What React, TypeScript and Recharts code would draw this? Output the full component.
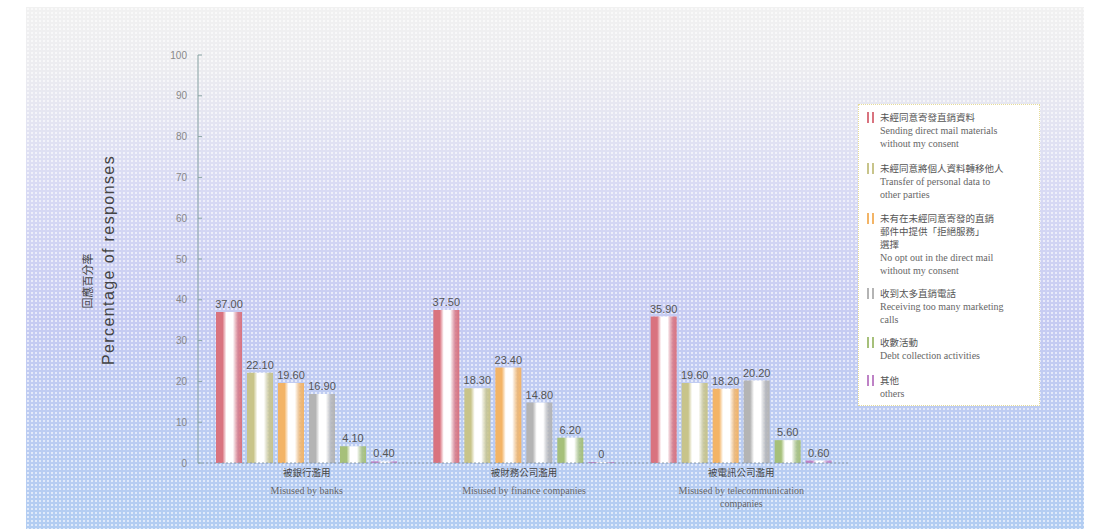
import React from "react";
import { Bar, BarChart, LabelList, XAxis, YAxis } from "recharts";

// 三個類別（被誰濫用）
const categoriesZh = ["被銀行濫用", "被財務公司濫用", "被電訊公司濫用"];
const categoriesEn = [
  ["Misused by banks"],
  ["Misused by finance companies"],
  ["Misused by telecommunication", "companies"],
];

// 各項回應百分率
const sendingMail = [37.0, 37.5, 35.9];
const transferData = [22.1, 18.3, 19.6];
const noOptOut = [19.6, 23.4, 18.2];
const tooManyCalls = [16.9, 14.8, 20.2];
const debtCollection = [4.1, 6.2, 5.6];
const others = [0.4, 0, 0.6];

const yTicks = [0, 10, 20, 30, 40, 50, 60, 70, 80, 90, 100];

const seriesKeys = ["s1", "s2", "s3", "s4", "s5", "s6"];
const seriesValues = [sendingMail, transferData, noOptOut, tooManyCalls, debtCollection, others];
const seriesColors = ["#d9737f", "#c8c48a", "#f3b466", "#b4b4b4", "#a6c07a", "#be82c6"];

const legendZh = [
  ["未經同意寄發直銷資料"],
  ["未經同意將個人資料轉移他人"],
  ["未有在未經同意寄發的直銷", "郵件中提供「拒絕服務」", "選擇"],
  ["收到太多直銷電話"],
  ["收數活動"],
  ["其他"],
];
const legendEn = [
  ["Sending direct mail materials", "without my consent"],
  ["Transfer of personal data to", "other parties"],
  ["No opt out in the direct mail", "without my consent"],
  ["Receiving too many marketing", "calls"],
  ["Debt collection activities"],
  ["others"],
];
const legendGaps = [12, 11, 10, 10, 12, 0];

const data = categoriesZh.map((zh, i) => {
  const row: Record<string, string | number> = { zh, idx: i };
  seriesKeys.forEach((k, j) => {
    row[k] = seriesValues[j][i];
  });
  return row;
});

const ZH_FONT = '"Noto Sans CJK TC", sans-serif';
const SERIF = '"Liberation Serif", serif';
const SANS = '"Liberation Sans", Arial, sans-serif';

function CategoryTick({ x, payload }: any) {
  // 固定貼著 x 軸（y=463）往下排
  const base = 463;
  const i = categoriesZh.indexOf(payload.value);
  const en = categoriesEn[i] ?? [];
  return (
    <g>
      <text x={x} y={base + 13} textAnchor="middle" fontFamily={ZH_FONT} fontSize={9.5} fill="#444">
        {payload.value}
      </text>
      {en.map((line, k) => (
        <text key={k} x={x} y={base + 31 + k * 13} textAnchor="middle" fontFamily={SERIF} fontSize={10} fill="#666">
          {line}
        </text>
      ))}
    </g>
  );
}

function YTitle() {
  return (
    <g>
      <text
        transform="translate(92,281) rotate(-90)"
        textAnchor="middle"
        fontFamily={ZH_FONT}
        fontSize={11}
        fill="#444"
      >
        回應百分率
      </text>
      <text
        transform="translate(114,260) rotate(-90)"
        textAnchor="middle"
        fontFamily={SANS}
        fontSize={16}
        letterSpacing={1.4}
        fill="#444"
      >
        Percentage of responses
      </text>
    </g>
  );
}

function LegendBox() {
  return (
    <div
      style={{
        position: "absolute",
        left: 858,
        top: 104,
        width: 182,
        height: 302,
        boxSizing: "border-box",
        background: "#fff",
        border: "1px dotted #e6dc98",
        padding: "6px 0 0 8px",
      }}
    >
      {legendZh.map((zh, i) => (
        <div key={i} style={{ display: "flex", marginBottom: legendGaps[i] }}>
          <div
            style={{
              width: 7,
              height: 11,
              marginTop: 1,
              marginRight: 6,
              flexShrink: 0,
              background: `linear-gradient(90deg, ${seriesColors[i]} 0%, ${seriesColors[i]} 30%, #fff 30%, #fff 65%, ${seriesColors[i]} 65%)`,
            }}
          />
          <div>
            {zh.map((line, k) => (
              <div key={"z" + k} style={{ fontFamily: ZH_FONT, fontSize: 9.5, lineHeight: "13px", color: "#555" }}>
                {line}
              </div>
            ))}
            {legendEn[i].map((line, k) => (
              <div key={"e" + k} style={{ fontFamily: SERIF, fontSize: 10, lineHeight: "13px", color: "#666" }}>
                {line}
              </div>
            ))}
          </div>
        </div>
      ))}
    </div>
  );
}

const fmt = (v: unknown) => (typeof v === "number" ? (v === 0 ? "0" : v.toFixed(2)) : String(v ?? ""));

export default function App() {
  return (
    <div style={{ position: "relative", width: 1093, height: 529, background: "#fff", overflow: "hidden" }}>
      <style>{"body{margin:0}"}</style>
      <div
        style={{
          position: "absolute",
          left: 26,
          top: 7,
          width: 1058,
          height: 522,
          backgroundColor: "#dcdef2",
          backgroundImage:
            "radial-gradient(rgba(255,255,255,0.6) 0.7px, transparent 1px), linear-gradient(180deg, #f1f1f1 0%, #ececf0 12%, #d8daf4 35%, #c6cbf2 60%, #b2cdf2 100%)",
          backgroundSize: "4px 4px, 100% 100%",
        }}
      />
      <div style={{ position: "absolute", left: 0, top: 0 }}>
        <BarChart
          width={1093}
          height={529}
          data={data}
          margin={{ top: 55, right: 243, bottom: 36, left: 168 }}
          barGap={5}
          barSize={26}
        >
          <defs>
            {seriesColors.map((c, i) => (
              <linearGradient key={i} id={"g" + i} x1="0" y1="0" x2="1" y2="0">
                <stop offset="0%" stopColor={c} />
                <stop offset="25%" stopColor={c} />
                <stop offset="40%" stopColor="#fff" />
                <stop offset="65%" stopColor="#fff" />
                <stop offset="85%" stopColor={c} stopOpacity={0.8} />
                <stop offset="100%" stopColor={c} />
              </linearGradient>
            ))}
          </defs>
          <XAxis
            dataKey="zh"
            height={30}
            tick={<CategoryTick />}
            tickLine={false}
            axisLine={{ stroke: "#8a9aa8", strokeDasharray: "2 2" }}
            interval={0}
          />
          <YAxis
            domain={[0, 100]}
            ticks={yTicks}
            interval={0}
            width={30}
            tickSize={-4}
            tickMargin={15}
            axisLine={{ stroke: "#8aa4a4" }}
            tickLine={{ stroke: "#8aa4a4" }}
            tick={{ fill: "#888", fontSize: 10, fontFamily: SANS }}
          />
          {seriesKeys.map((k, i) => (
            <Bar
              key={k}
              dataKey={k}
              fill={`url(#g${i})`}
              minPointSize={i === 5 ? 1 : 0}
              isAnimationActive={false}
            >
              <LabelList
                dataKey={k}
                position="top"
                offset={4}
                fill="#555"
                fontSize={11}
                fontFamily={SANS}
                formatter={fmt}
              />
            </Bar>
          ))}
          <YTitle />
        </BarChart>
      </div>
      <LegendBox />
    </div>
  );
}
